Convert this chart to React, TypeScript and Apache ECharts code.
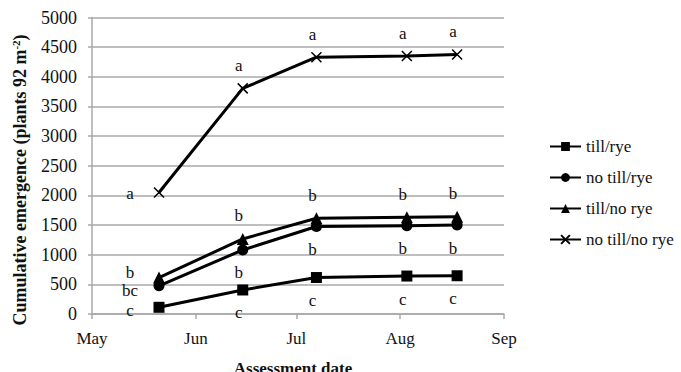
import React, { useEffect, useRef } from "react";
import * as echarts from "echarts";

const dates = ["2012-05-21", "2012-06-15", "2012-07-07", "2012-08-03", "2012-08-18"];
const monthTicks = ["2012-05-01", "2012-06-01", "2012-07-01", "2012-08-01", "2012-09-01"];
const monthLabels = ["May", "Jun", "Jul", "Aug", "Sep"];
const seriesNames = ["till/rye", "no till/rye", "till/no rye", "no till/no rye"];
const tillRye = [113, 405, 615, 640, 645];
const noTillRye = [475, 1080, 1475, 1490, 1500];
const tillNoRye = [615, 1265, 1615, 1630, 1640];
const noTillNoRye = [2050, 3805, 4330, 4350, 4375];
const tillRyeLetters = ["c", "c", "c", "c", "c"];
const noTillRyeLetters = ["bc", "b", "b", "b", "b"];
const tillNoRyeLetters = ["b", "b", "b", "b", "b"];
const noTillNoRyeLetters = ["a", "a", "a", "a", "a"];
const yMin = 0;
const yMax = 5000;
const yStep = 500;
const yTitle = "Cumulative emergence (plants 92 m{sup|-2})";
const xTitle = "Assessment date";

const FONT = "serif";
const DAY = 86400000;
const origin = Date.parse(monthTicks[0]);
const toDay = (d: string) => Math.round((Date.parse(d) - origin) / DAY);
const xs = dates.map(toDay);
const tickDays = monthTicks.map(toDay);

function buildSeries(
  name: string,
  values: number[],
  letters: string[],
  symbol: string,
  symbolSize: number,
  side: "above" | "below",
  firstDy: number,
  isCross = false
) {
  return {
    name,
    type: "line",
    symbol,
    symbolSize,
    showAllSymbol: true,
    lineStyle: { color: "#000", width: 3 },
    itemStyle: isCross
      ? { color: "rgba(0,0,0,0)", borderColor: "#000", borderWidth: 1.5 }
      : { color: "#000" },
    emphasis: { disabled: true },
    data: values.map((v, i) => ({
      value: [xs[i], v],
      label: {
        show: true,
        formatter: letters[i],
        position: "inside",
        offset: i === 0 ? [-29, firstDy] : [-4, side === "above" ? -23 : 23],
        color: "#111",
        fontFamily: FONT,
        fontSize: 17,
      },
    })),
  };
}

export default function App() {
  const ref = useRef<HTMLDivElement>(null);
  useEffect(() => {
    if (!ref.current) return;
    const chart = echarts.init(ref.current, null, { renderer: "svg" });
    const gray = "#a8a8a8";
    chart.setOption({
      animation: false,
      backgroundColor: "#fff",
      textStyle: { fontFamily: FONT },
      grid: { left: 92, right: 177, top: 17.5, bottom: 58, outerBoundsMode: "none" },
      graphic: [
        {
          type: "text",
          x: 20,
          y: 180,
          rotation: Math.PI / 2,
          style: {
            text: yTitle,
            fontFamily: FONT,
            fontWeight: "bold",
            fontSize: 18,
            fill: "#111",
            align: "center",
            verticalAlign: "middle",
            rich: {
              sup: {
                fontFamily: FONT,
                fontWeight: "bold",
                fontSize: 11,
                fill: "#111",
                verticalAlign: "top",
                padding: [0, 0, 8, 0],
              },
            },
          },
        },
      ],
      legend: {
        orient: "vertical",
        left: 549,
        top: 138,
        padding: 0,
        itemWidth: 31,
        itemHeight: 11,
        itemGap: 14,
        data: seriesNames,
        textStyle: { fontFamily: FONT, fontSize: 17, color: "#111" },
      },
      xAxis: {
        type: "value",
        min: tickDays[0],
        max: tickDays[tickDays.length - 1],
        name: xTitle,
        nameLocation: "middle",
        nameGap: 46,
        nameTextStyle: {
          fontFamily: FONT,
          fontWeight: "bold",
          fontSize: 17,
          color: "#111",
          padding: [0, 10, 0, 0],
        },
        axisLine: { show: true, lineStyle: { color: gray, width: 1.5 } },
        axisTick: { show: true, customValues: tickDays, length: 5, lineStyle: { color: gray, width: 1.5 } },
        axisLabel: {
          customValues: tickDays,
          margin: 16,
          fontFamily: FONT,
          fontSize: 17,
          color: "#111",
          formatter: (v: number) => {
            const i = tickDays.indexOf(Math.round(v));
            return i >= 0 ? monthLabels[i] : "";
          },
        },
        splitLine: { show: false },
      },
      yAxis: {
        type: "value",
        min: yMin,
        max: yMax,
        interval: yStep,
        axisLine: { show: true, lineStyle: { color: gray, width: 1.5 } },
        axisTick: { show: true, length: 4, lineStyle: { color: gray, width: 1.5 } },
        axisLabel: {
          margin: 15,
          fontFamily: FONT,
          fontSize: 18,
          color: "#111",
          formatter: (v: number) => String(v),
        },
        splitLine: { show: true, lineStyle: { color: gray, width: 1.5 } },
      },
      series: [
        buildSeries(seriesNames[0], tillRye, tillRyeLetters, "rect", 11, "below", 3),
        buildSeries(seriesNames[1], noTillRye, noTillRyeLetters, "circle", 11, "below", 5),
        buildSeries(seriesNames[2], tillNoRye, tillNoRyeLetters, "triangle", 12, "above", -5),
        buildSeries(
          seriesNames[3],
          noTillNoRye,
          noTillNoRyeLetters,
          "path://M0,0L10,10M10,0L0,10",
          10,
          "above",
          1,
          true
        ),
      ],
    });
    return () => chart.dispose();
  }, []);
  return (
    <div
      ref={ref}
      style={{ position: "fixed", left: 0, top: 0, width: 681, height: 372, background: "#fff" }}
    />
  );
}
